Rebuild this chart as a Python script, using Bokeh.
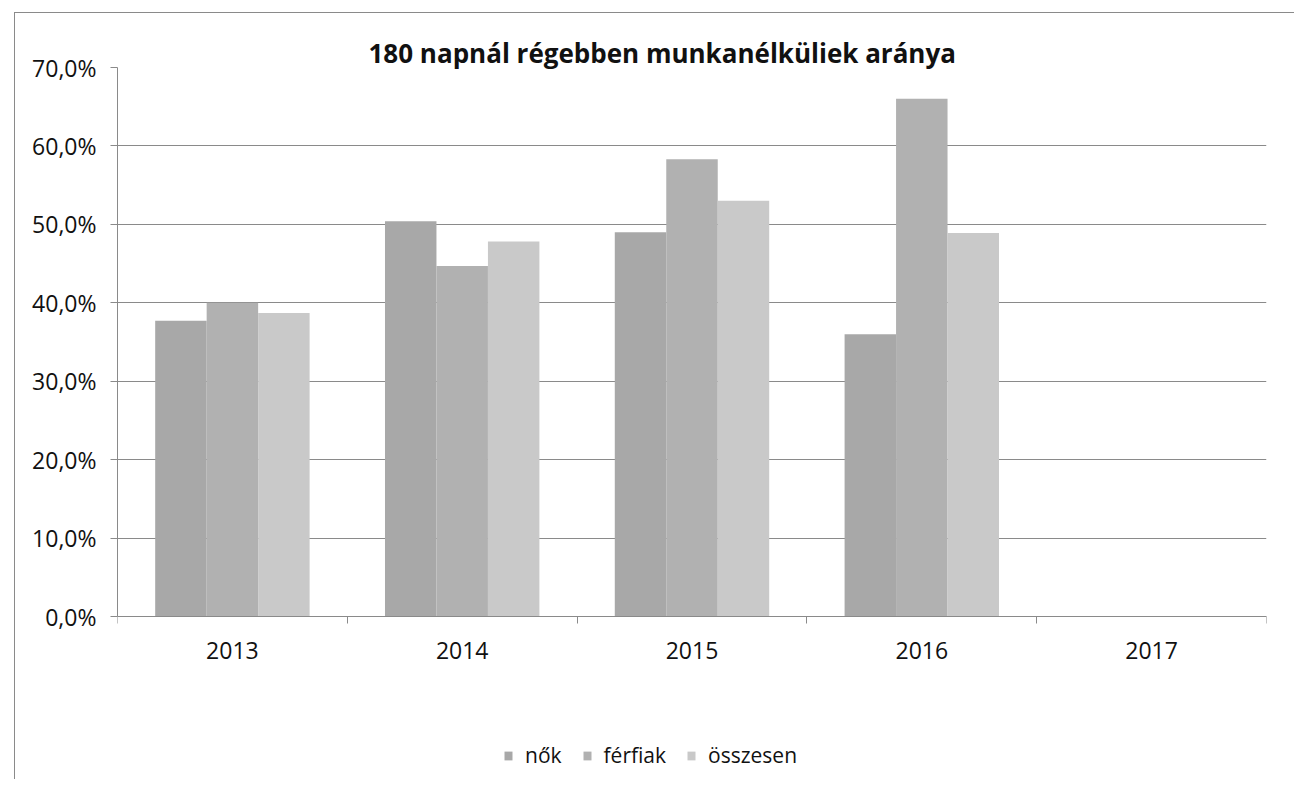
from bokeh.plotting import figure
from bokeh.models import ColumnDataSource, Range1d, FixedTicker, Title, Legend
from bokeh.transform import dodge
from bokeh.embed import file_html
from bokeh.resources import INLINE

title_text = "180 napnál régebben munkanélküliek aránya"
years = ["2013", "2014", "2015", "2016", "2017"]
nok = [37.7, 50.4, 49.0, 36.0]
ferfiak = [40.0, 44.7, 58.3, 66.0]
osszesen = [38.7, 47.8, 53.0, 48.9]
series_names = ["nők", "férfiak", "összesen"]
series_colors = ["#a8a8a8", "#b1b1b1", "#c9c9c9"]
y_ticks = [0, 10, 20, 30, 40, 50, 60, 70]
y_tick_labels = ["0,0%", "10,0%", "20,0%", "30,0%", "40,0%", "50,0%", "60,0%", "70,0%"]

FONT = "Open Sans"
GRID = "#8a8a8a"

# layout (pixels)
FIG_W, FIG_H = 1280, 767
BORDER_L, BORDER_T, BORDER_R, BORDER_B = 102, 54, 29, 4
VALUE_AREA_PX = 549          # height of the 0..70 % area
frame_h = FIG_H - BORDER_T - BORDER_B
px_per_unit = VALUE_AREA_PX / (y_ticks[-1] - y_ticks[0])
y_start = y_ticks[0] - (frame_h - VALUE_AREA_PX) / px_per_unit   # room below the axis for labels/legend

centers = [i + 0.5 for i in range(len(years))]
n = len(nok)
src = ColumnDataSource(dict(x=centers[:n], nok=nok, ferfiak=ferfiak, osszesen=osszesen))

p = figure(width=FIG_W, height=FIG_H, output_backend="svg", toolbar_location=None,
           x_range=Range1d(0, len(years)), y_range=Range1d(y_start, y_ticks[-1]),
           min_border_left=BORDER_L, min_border_top=BORDER_T,
           min_border_right=BORDER_R, min_border_bottom=BORDER_B,
           styles={"margin-left": "14px", "margin-top": "12px",
                   "border-left": "1px solid #8a8a8a", "border-top": "1px solid #8a8a8a"})
p.outline_line_color = None
p.background_fill_color = "white"
p.border_fill_color = "white"

bw = 0.224
offsets = [-bw, 0.0, bw]
cols = ["nok", "ferfiak", "osszesen"]
renderers = []
for col, off, color, name in zip(cols, offsets, series_colors, series_names):
    r = p.vbar(x=dodge("x", off, range=p.x_range), top=col, width=bw, source=src,
               fill_color=color, line_color=None)
    renderers.append((name, r))

# y axis
p.yaxis.ticker = FixedTicker(ticks=y_ticks)
p.yaxis.bounds = (y_ticks[0], y_ticks[-1])
p.yaxis.major_label_overrides = {t: s for t, s in zip(y_ticks, y_tick_labels)}
p.yaxis.major_label_text_font = FONT
p.yaxis.major_label_text_font_size = "23px"
p.yaxis.major_label_text_color = "#111111"
p.yaxis.major_tick_out = 7
p.yaxis.major_tick_in = 0
p.yaxis.minor_tick_line_color = None
p.yaxis.major_label_standoff = 14
p.yaxis.axis_line_color = GRID
p.yaxis.major_tick_line_color = GRID

# x axis at value 0: labels at centres, tick marks at category boundaries
p.xaxis.fixed_location = y_ticks[0]
p.xaxis.ticker = FixedTicker(ticks=centers, minor_ticks=list(range(len(years) + 1)))
p.xaxis.major_label_overrides = {c: y for c, y in zip(centers, years)}
p.xaxis.major_tick_line_color = None
p.xaxis.major_tick_out = 0
p.xaxis.major_tick_in = 0
p.xaxis.minor_tick_out = 7
p.xaxis.minor_tick_in = 0
p.xaxis.minor_tick_line_color = GRID
p.xaxis.axis_line_color = GRID
p.xaxis.major_label_text_font = FONT
p.xaxis.major_label_text_font_size = "23px"
p.xaxis.major_label_text_color = "#111111"
p.xaxis.major_label_standoff = 18

p.xgrid.grid_line_color = None
p.ygrid.ticker = FixedTicker(ticks=y_ticks)
p.ygrid.grid_line_color = GRID
p.ygrid.grid_line_width = 1

title = Title(text=title_text, align="left", offset=251, standoff=-6,
              text_font=FONT, text_font_style="bold", text_font_size="26px",
              text_color="#111111")
p.add_layout(title, "above")

legend = Legend(items=[(nm, [r]) for nm, r in renderers], location=(386, 7),
                orientation="horizontal", border_line_color=None, background_fill_alpha=0,
                padding=0, margin=0, spacing=20, label_standoff=12,
                glyph_width=10, glyph_height=11, label_height=20,
                label_text_font=FONT, label_text_font_size="21px", label_text_color="#111111")
p.add_layout(legend, "center")

open("out.html", "w").write(file_html(p, INLINE))
